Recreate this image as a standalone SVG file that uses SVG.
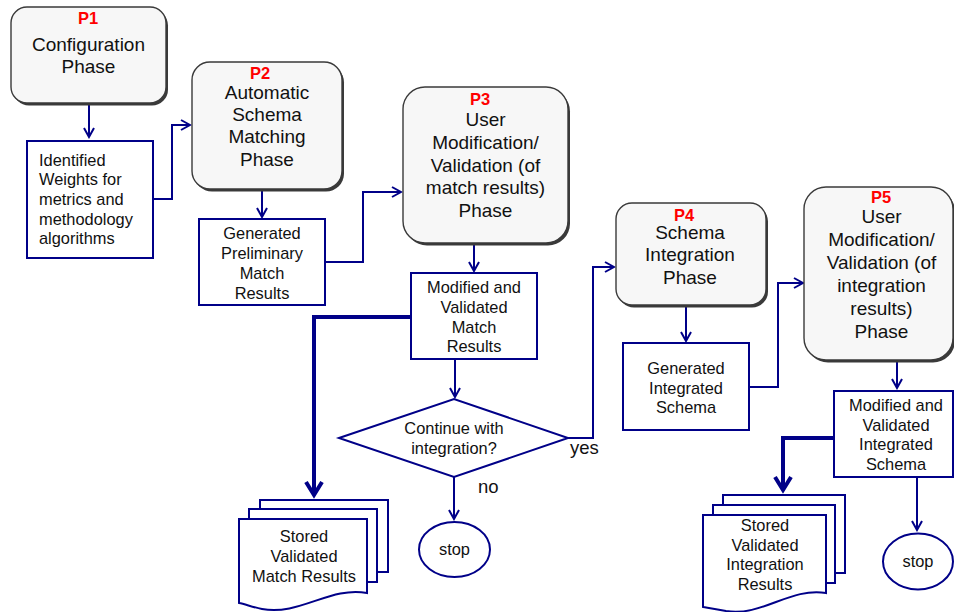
<svg xmlns="http://www.w3.org/2000/svg" width="954" height="612" viewBox="0 0 954 612">
  <style>
    .phase { fill: #f7f7f7; stroke: #3a3a3a; stroke-width: 1.4; }
    .shadow { fill: #3a3a3a; }
    .box { fill: #ffffff; stroke: #000088; stroke-width: 2; }
    .line { fill: none; stroke: #000088; stroke-width: 2; }
    .thick { fill: none; stroke: #000088; stroke-width: 4; }
    text { font-family: "Liberation Sans", Arial, sans-serif; fill: #111111; }
    .pt { font-size: 19px; text-anchor: middle; }
    .st { font-size: 16.4px; text-anchor: middle; }
    .lt { font-size: 16.4px; }
    .pl { font-size: 16.5px; font-weight: bold; fill: #ff0000; text-anchor: middle; }
    .lbl { font-size: 18.5px; }
  </style>
  <defs>
    <marker id="arr" markerUnits="userSpaceOnUse" markerWidth="14" markerHeight="14" viewBox="-12 -7 14 14" refX="0" refY="0" orient="auto">
      <path d="M-9,-5 L0,0 L-9,5" fill="none" stroke="#000088" stroke-width="2"/>
    </marker>
    <marker id="arrThick" markerUnits="userSpaceOnUse" markerWidth="24" markerHeight="24" viewBox="-18 -12 24 24" refX="0" refY="0" orient="auto">
      <path d="M-13,-8 L0,0 L-13,8" fill="none" stroke="#000088" stroke-width="4"/>
    </marker>
  </defs>

  <!-- connectors -->
  <g id="connectors">
    <path class="line" d="M89,104 V137" marker-end="url(#arr)"/>
    <path class="line" d="M153,199 H172 V125 H190" marker-end="url(#arr)"/>
    <path class="line" d="M262,190 V217" marker-end="url(#arr)"/>
    <path class="line" d="M325,262 H363 V192 H401" marker-end="url(#arr)"/>
    <path class="line" d="M474,244 V271" marker-end="url(#arr)"/>
    <path class="thick" d="M411,317 H314 V495" marker-end="url(#arrThick)"/>
    <path class="line" d="M455,359 V397" marker-end="url(#arr)"/>
    <path class="line" d="M568,438 H593 V267 H614" marker-end="url(#arr)"/>
    <path class="line" d="M454,477 V519" marker-end="url(#arr)"/>
    <path class="line" d="M686,306 V341" marker-end="url(#arr)"/>
    <path class="line" d="M749,387 H778 V283 H803" marker-end="url(#arr)"/>
    <path class="line" d="M897,361 V388" marker-end="url(#arr)"/>
    <path class="thick" d="M834,438 H783 V490" marker-end="url(#arrThick)"/>
    <path class="line" d="M917,477 V530" marker-end="url(#arr)"/>
    <text class="lbl" x="570" y="454">yes</text>
    <text class="lbl" x="478" y="493">no</text>
  </g>

  <!-- P1 -->
  <g id="p1">
    <rect class="shadow" x="13" y="9.5" width="155" height="96" rx="16"/>
    <rect class="phase" x="11" y="7" width="155" height="96" rx="16"/>
    <text class="pl" x="88" y="23.5">P1</text>
    <text class="pt" x="88.5" y="50.7">Configuration</text>
    <text class="pt" x="88.5" y="73">Phase</text>
  </g>

  <g id="weights">
    <rect class="box" x="27" y="141" width="126" height="117"/>
    <text class="lt" x="39" y="165.7">Identified</text>
    <text class="lt" x="39" y="185.3">Weights for</text>
    <text class="lt" x="39" y="205">metrics and</text>
    <text class="lt" x="39" y="224.7">methodology</text>
    <text class="lt" x="39" y="244.3">algorithms</text>
  </g>

  <!-- P2 -->
  <g id="p2">
    <rect class="shadow" x="194" y="64.5" width="150" height="127" rx="18"/>
    <rect class="phase" x="192" y="62" width="150" height="127" rx="18"/>
    <text class="pl" x="260" y="79">P2</text>
    <text class="pt" x="267" y="98.5">Automatic</text>
    <text class="pt" x="267" y="120.7">Schema</text>
    <text class="pt" x="267" y="143.3">Matching</text>
    <text class="pt" x="267" y="166">Phase</text>
  </g>

  <g id="preliminary">
    <rect class="box" x="199" y="219" width="126" height="86"/>
    <text class="st" x="262" y="239.3">Generated</text>
    <text class="st" x="262" y="259.3">Preliminary</text>
    <text class="st" x="262" y="279">Match</text>
    <text class="st" x="262" y="298.7">Results</text>
  </g>

  <!-- P3 -->
  <g id="p3">
    <rect class="shadow" x="405" y="89.5" width="165" height="156" rx="22"/>
    <rect class="phase" x="403" y="87" width="165" height="156" rx="22"/>
    <text class="pl" x="480" y="105">P3</text>
    <text class="pt" x="485.5" y="126">User</text>
    <text class="pt" x="485.5" y="149">Modification/</text>
    <text class="pt" x="485.5" y="171.7">Validation (of</text>
    <text class="pt" x="485.5" y="194">match results)</text>
    <text class="pt" x="485.5" y="216.7">Phase</text>
  </g>

  <g id="validated-match">
    <rect class="box" x="411" y="273" width="126" height="86"/>
    <text class="st" x="474" y="292.7">Modified and</text>
    <text class="st" x="474" y="312.7">Validated</text>
    <text class="st" x="474" y="332.7">Match</text>
    <text class="st" x="474" y="352.3">Results</text>
  </g>

  <g id="decision">
    <polygon class="box" points="339,438 454,399 568,438 454,477"/>
    <text class="st" x="454" y="434">Continue with</text>
    <text class="st" x="454" y="454">integration?</text>
  </g>

  <g id="stop1">
    <ellipse class="box" cx="454.5" cy="549.5" rx="35.5" ry="27.5"/>
    <text class="st" x="454.5" y="555">stop</text>
  </g>

  <g id="stored-match">
    <rect class="box" x="260" y="500" width="128" height="72"/>
    <rect class="box" x="249" y="509" width="128" height="73"/>
    <path class="box" d="M239,519 H367 V593 C330,586 300,616 262,609 C252,607 245,604 239,603 Z"/>
    <text class="st" x="304" y="542.3">Stored</text>
    <text class="st" x="304" y="562.3">Validated</text>
    <text class="st" x="304" y="581.7">Match Results</text>
  </g>

  <!-- P4 -->
  <g id="p4">
    <rect class="shadow" x="618" y="205.5" width="150" height="102" rx="16"/>
    <rect class="phase" x="616" y="203" width="150" height="102" rx="16"/>
    <text class="pl" x="684" y="220.5">P4</text>
    <text class="pt" x="690" y="238.8">Schema</text>
    <text class="pt" x="690" y="261">Integration</text>
    <text class="pt" x="690" y="284">Phase</text>
  </g>

  <g id="integrated-schema">
    <rect class="box" x="623" y="343" width="126" height="87"/>
    <text class="st" x="686" y="374">Generated</text>
    <text class="st" x="686" y="394">Integrated</text>
    <text class="st" x="686" y="412.7">Schema</text>
  </g>

  <!-- P5 -->
  <g id="p5">
    <rect class="shadow" x="806" y="189.5" width="149" height="173" rx="22"/>
    <rect class="phase" x="804" y="187" width="149" height="173" rx="22"/>
    <text class="pl" x="881" y="203">P5</text>
    <text class="pt" x="881.5" y="222.7">User</text>
    <text class="pt" x="881.5" y="246">Modification/</text>
    <text class="pt" x="881.5" y="269">Validation (of</text>
    <text class="pt" x="881.5" y="291.7">integration</text>
    <text class="pt" x="881.5" y="315">results)</text>
    <text class="pt" x="881.5" y="337.7">Phase</text>
  </g>

  <g id="validated-schema">
    <rect class="box" x="834" y="391" width="119" height="86"/>
    <text class="st" x="896" y="410.7">Modified and</text>
    <text class="st" x="896" y="430.7">Validated</text>
    <text class="st" x="896" y="450">Integrated</text>
    <text class="st" x="896" y="470">Schema</text>
  </g>

  <g id="stop2">
    <ellipse class="box" cx="918" cy="561.5" rx="35" ry="28"/>
    <text class="st" x="918" y="567">stop</text>
  </g>

  <g id="stored-integration">
    <rect class="box" x="723" y="495" width="122" height="78"/>
    <rect class="box" x="713" y="505" width="122" height="78"/>
    <path class="box" d="M703,515 H826 V593 C790,587 762,617 726,611 C716,609 709,608 703,607 Z"/>
    <text class="st" x="765" y="530.7">Stored</text>
    <text class="st" x="765" y="550.7">Validated</text>
    <text class="st" x="765" y="570">Integration</text>
    <text class="st" x="765" y="590">Results</text>
  </g>
</svg>
